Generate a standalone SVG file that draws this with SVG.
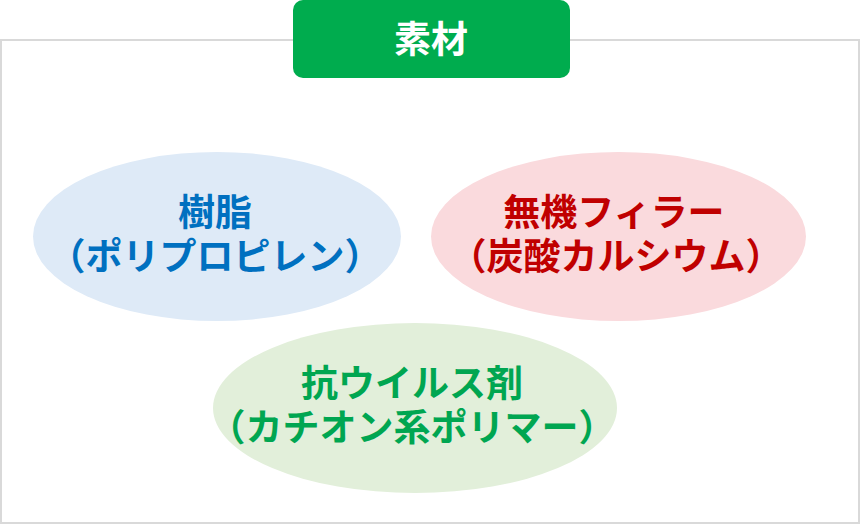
<svg xmlns="http://www.w3.org/2000/svg" width="861" height="525" viewBox="0 0 861 525">
<style>
.t{font-family:"Noto Sans CJK JP","Noto Sans",sans-serif;font-weight:bold;font-size:37px;text-anchor:middle}
</style>
<rect width="861" height="525" fill="#ffffff"/>
<g id="frame"><rect x="1" y="40" width="858" height="483" fill="none" stroke="#d9d9d9" stroke-width="2"/></g>
<g id="title">
<rect x="293" y="0" width="277" height="78" rx="10" fill="#00ac4e"/>
<text class="t" x="431" y="53" fill="#ffffff" font-size="39" font-weight="500">素材</text>
</g>
<g id="resin">
<ellipse cx="217" cy="236.5" rx="184" ry="84.5" fill="#deeaf7"/>
<text class="t" x="215" y="226" fill="#0070c0">樹脂</text>
<text class="t" x="215" y="270" fill="#0070c0">（ポリプロピレン）</text>
</g>
<g id="filler">
<ellipse cx="618.5" cy="236.5" rx="187.5" ry="84.5" fill="#fadadd"/>
<text class="t" x="614" y="226" fill="#c00000">無機フィラー</text>
<text class="t" x="616" y="270" fill="#c00000">（炭酸カルシウム）</text>
</g>
<g id="antiviral">
<ellipse cx="415" cy="408" rx="202" ry="85" fill="#e2efda"/>
<text class="t" x="412" y="397" fill="#00a651">抗ウイルス剤</text>
<text class="t" x="412" y="441" fill="#00a651">（カチオン系ポリマー）</text>
</g>
<g id="connectors"></g>
</svg>
